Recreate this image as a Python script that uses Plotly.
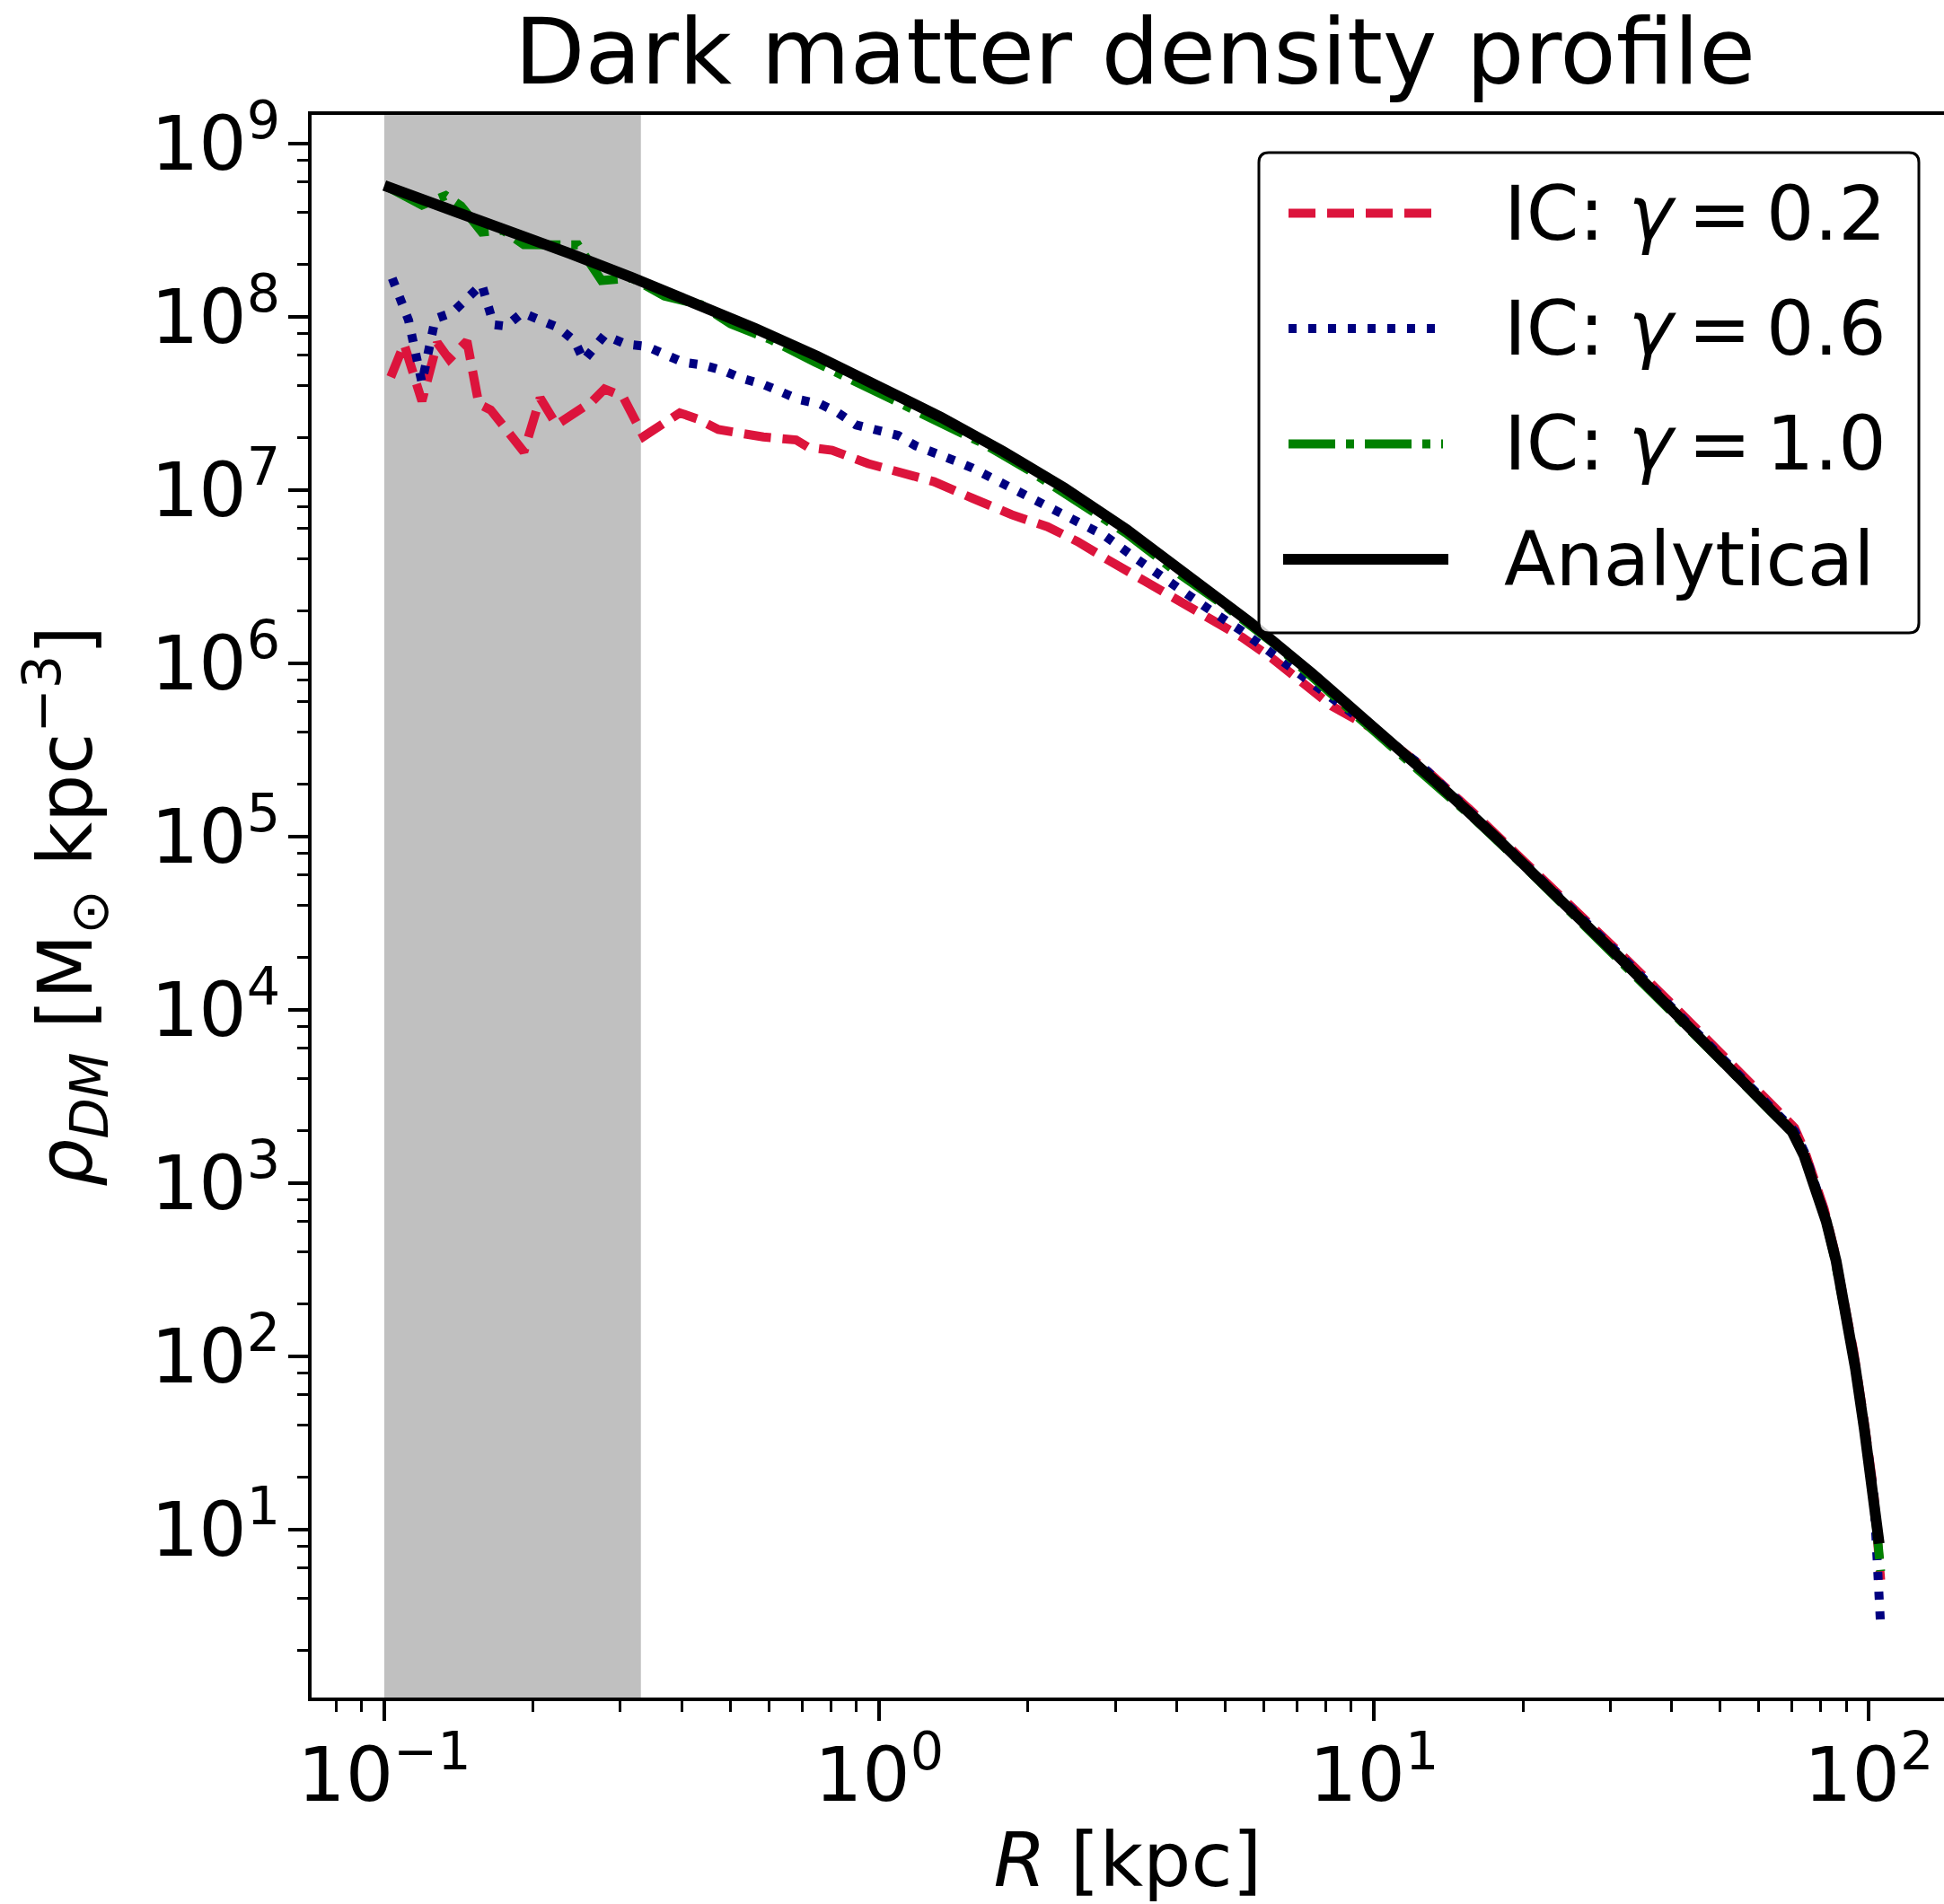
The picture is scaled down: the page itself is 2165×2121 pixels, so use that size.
import numpy as np
import plotly.graph_objects as go

# ---------------- data (log10 units) ----------------
log10_R_analytical = [-1.0, -0.875, -0.75, -0.625, -0.5, -0.375, -0.25, -0.125, 0.0, 0.125,
                      0.25, 0.375, 0.5, 0.625, 0.75, 0.875, 1.0, 1.125, 1.25, 1.375,
                      1.5, 1.625, 1.75, 1.8, 1.845, 1.869, 1.892, 1.914, 1.934, 1.954,
                      1.973, 1.991, 2.009, 2.021]
log10_rho_analytical = [8.758, 8.631, 8.500, 8.366, 8.228, 8.084, 7.933, 7.773, 7.603, 7.421,
                        7.225, 7.011, 6.773, 6.514, 6.236, 5.942, 5.636, 5.317, 4.986, 4.644,
                        4.292, 3.934, 3.573, 3.428, 3.298, 3.16, 2.98, 2.78, 2.55, 2.25,
                        1.93, 1.58, 1.2, 0.92]

log10_R_g02 = [-0.987, -0.96, -0.924, -0.893, -0.869, -0.833, -0.809, -0.785, -0.718, -0.685,
               -0.652, -0.579, -0.555, -0.518, -0.476, -0.403, -0.367, -0.325, -0.234, -0.168,
               -0.143, -0.095, -0.022, 0.038, 0.111, 0.189, 0.268, 0.34, 0.401, 0.461,
               0.534, 0.601, 0.667, 0.734, 0.794, 0.855, 0.915, 1.0, 1.1, 1.2,
               1.3, 1.4, 1.5, 1.6, 1.7, 1.8, 1.85, 1.87, 1.89, 1.91,
               1.93, 1.95, 1.97, 1.99, 2.01, 2.024]
log10_rho_g02 = [7.653, 7.843, 7.514, 7.851, 7.756, 7.86, 7.497, 7.463, 7.221, 7.532,
                 7.377, 7.514, 7.584, 7.541, 7.31, 7.446, 7.411, 7.35, 7.307, 7.29,
                 7.247, 7.23, 7.153, 7.10, 7.049, 6.953, 6.858, 6.789, 6.703, 6.60,
                 6.479, 6.375, 6.263, 6.15, 6.03, 5.891, 5.753, 5.62, 5.40, 5.14,
                 4.87, 4.60, 4.32, 4.04, 3.75, 3.46, 3.32, 3.19, 3.03, 2.85,
                 2.62, 2.35, 2.02, 1.64, 1.22, 0.71]

log10_R_g06 = [-0.984, -0.966, -0.951, -0.924, -0.903, -0.897, -0.863, -0.833, -0.803, -0.779,
               -0.754, -0.721, -0.685, -0.648, -0.615, -0.597, -0.555, -0.512, -0.47, -0.434,
               -0.397, -0.355, -0.313, -0.277, -0.234, -0.198, -0.162, -0.119, -0.083, -0.047,
               -0.004, 0.038, 0.074, 0.111, 0.153, 0.189, 0.225, 0.268, 0.304, 0.34,
               0.383, 0.456, 0.522, 0.589, 0.661, 0.734, 0.825, 0.9, 1.0, 1.1,
               1.2, 1.3, 1.4, 1.5, 1.6, 1.7, 1.8, 1.85, 1.87, 1.89,
               1.91, 1.93, 1.95, 1.97, 1.99, 2.01, 2.024]
log10_rho_g06 = [8.223, 8.102, 7.981, 7.62, 7.869, 7.99, 8.024, 8.11, 8.188, 7.955,
                 7.947, 8.024, 7.981, 7.938, 7.86, 7.748, 7.895, 7.843, 7.83, 7.78,
                 7.739, 7.722, 7.688, 7.645, 7.61, 7.567, 7.523, 7.497, 7.446, 7.377,
                 7.351, 7.316, 7.256, 7.221, 7.17, 7.127, 7.075, 7.015, 6.962, 6.91,
                 6.852, 6.737, 6.60, 6.461, 6.323, 6.185, 5.995, 5.83, 5.62, 5.40,
                 5.13, 4.86, 4.585, 4.31, 4.02, 3.73, 3.44, 3.30, 3.18, 3.02,
                 2.83, 2.6, 2.33, 2.0, 1.62, 1.2, 0.44]

log10_R_g10 = [-0.993, -0.96, -0.924, -0.876, -0.845, -0.803, -0.76, -0.718, -0.66, -0.609,
               -0.561, -0.5, -0.434, -0.36, -0.30, -0.22, -0.13, -0.05, 0.03, 0.12,
               0.21, 0.30, 0.40, 0.5, 0.6, 0.7, 0.8, 0.9, 1.0, 1.1,
               1.2, 1.3, 1.4, 1.5, 1.6, 1.7, 1.8, 1.85, 1.87, 1.89,
               1.91, 1.93, 1.95, 1.97, 1.99, 2.01, 2.024]
log10_rho_g10 = [8.75, 8.70, 8.645, 8.70, 8.64, 8.49, 8.50, 8.417, 8.42, 8.416,
                 8.21, 8.225, 8.12, 8.07, 7.96, 7.87, 7.74, 7.63, 7.53, 7.40,
                 7.27, 7.12, 6.94, 6.75, 6.53, 6.33, 6.11, 5.86, 5.62, 5.37,
                 5.11, 4.84, 4.56, 4.28, 4.0, 3.71, 3.42, 3.28, 3.15, 3.0,
                 2.82, 2.58, 2.3, 1.98, 1.6, 1.18, 0.76]

series_names = ["IC: <i>γ</i>\u2009=\u20090.2", "IC: <i>γ</i>\u2009=\u20090.6",
                "IC: <i>γ</i>\u2009=\u20091.0", "Analytical"]

shade_R = [0.1, 0.33]  # resolution-limited region

x_tick_vals = [0.1, 1, 10, 100]
x_tick_text = ["10<sup>−1</sup>", "10<sup>0</sup>", "10<sup>1</sup>", "10<sup>2</sup>"]
x_minor_vals = [0.07, 0.08, 0.09, 0.2, 0.3, 0.4, 0.5, 0.6, 0.7, 0.8, 0.9,
                2, 3, 4, 5, 6, 7, 8, 9, 20, 30, 40, 50, 60, 70, 80, 90]
y_tick_vals = [1e1, 1e2, 1e3, 1e4, 1e5, 1e6, 1e7, 1e8, 1e9]
y_tick_text = ["10<sup>1</sup>", "10<sup>2</sup>", "10<sup>3</sup>", "10<sup>4</sup>",
               "10<sup>5</sup>", "10<sup>6</sup>", "10<sup>7</sup>", "10<sup>8</sup>",
               "10<sup>9</sup>"]
y_minor_vals = [m * 10.0 ** e for e in range(0, 9) for m in (2, 4, 6, 8)]

# ---------------- layout geometry ----------------
W, H = 2165, 2121
ML, MR, MT, MB = 347, 0, 128, 230
PW, PH = W - ML - MR, H - MT - MB
FONT = "DejaVu Sans"
FS = 84


def px2paper_x(px):
    return (px - ML) / PW


def px2paper_y(py):
    return (H - MB - py) / PH


styles = [
    dict(color="crimson", width=10, dash="30px,13px"),
    dict(color="navy", width=10, dash="9px,13px"),
    dict(color="green", width=10, dash="52px,12px,9px,12px"),
    dict(color="black", width=12, dash="solid"),
]
xs = [log10_R_g02, log10_R_g06, log10_R_g10, log10_R_analytical]
ys = [log10_rho_g02, log10_rho_g06, log10_rho_g10, log10_rho_analytical]

fig = go.Figure()
for name, lx, ly, st in zip(series_names, xs, ys, styles):
    fig.add_trace(go.Scatter(
        x=10 ** np.array(lx), y=10 ** np.array(ly), mode="lines", name=name,
        line=st, showlegend=False,
    ))

fig.add_vrect(x0=shade_R[0], x1=shade_R[1], fillcolor="#c0c0c0", opacity=1,
              line_width=0, layer="below")

axis_common = dict(
    type="log", showgrid=False, zeroline=False, showline=True, linewidth=4,
    linecolor="black", ticks="outside", ticklen=22, tickwidth=4, tickcolor="black",
    tickfont=dict(family=FONT, size=FS, color="black"), tickmode="array",
)

fig.update_xaxes(
    **axis_common, mirror=True, ticklabelstandoff=-12,
    range=[-1.147, 2.152], tickvals=x_tick_vals, ticktext=x_tick_text,
    minor=dict(tickmode="array", tickvals=x_minor_vals, ticks="outside",
               ticklen=12, tickwidth=3, tickcolor="black", showgrid=False),
    title=dict(text="<i>R</i> [kpc]", font=dict(family=FONT, size=FS, color="black"),
               standoff=36),
)
fig.update_yaxes(
    **axis_common, mirror=False, ticklabelstandoff=-8,
    range=[0.031, 9.166], tickvals=y_tick_vals, ticktext=y_tick_text,
    minor=dict(tickmode="array", tickvals=y_minor_vals, ticks="outside",
               ticklen=12, tickwidth=3, tickcolor="black", showgrid=False),
    title=dict(text="<i>ρ</i><sub><i>DM</i></sub> [M<sub>⊙</sub> kpc<sup>−3</sup>]",
               font=dict(family=FONT, size=FS, color="black"), standoff=38),
)

# ---------------- legend (drawn as a framed box) ----------------
bx0, bx1, by0, by1, rr = 1402, 2137, 170, 705, 11


def rounded_path(x0, y0, x1, y1, r):
    X = lambda v: px2paper_x(v)
    Y = lambda v: px2paper_y(v)
    return (f"M {X(x0 + r)},{Y(y0)} L {X(x1 - r)},{Y(y0)} Q {X(x1)},{Y(y0)} {X(x1)},{Y(y0 + r)} "
            f"L {X(x1)},{Y(y1 - r)} Q {X(x1)},{Y(y1)} {X(x1 - r)},{Y(y1)} "
            f"L {X(x0 + r)},{Y(y1)} Q {X(x0)},{Y(y1)} {X(x0)},{Y(y1 - r)} "
            f"L {X(x0)},{Y(y0 + r)} Q {X(x0)},{Y(y0)} {X(x0 + r)},{Y(y0)} Z")


fig.add_shape(type="path", path=rounded_path(bx0, by0, bx1, by1, rr), xref="paper", yref="paper",
              fillcolor="rgba(255,255,255,0.8)", line=dict(color="black", width=3), layer="above")

entry_y = [237.5, 366, 494.5, 623]
for name, st, ey in zip(series_names, styles, entry_y):
    ext = 6 if st["dash"] == "solid" else 0
    fig.add_shape(type="line", xref="paper", yref="paper",
                  x0=px2paper_x(1435 - ext), x1=px2paper_x(1607 + ext),
                  y0=px2paper_y(ey), y1=px2paper_y(ey),
                  line=dict(color=st["color"], width=st["width"], dash=st["dash"]), layer="above")
    fig.add_annotation(text=name, xref="paper", yref="paper", x=px2paper_x(1673),
                       y=px2paper_y(ey), xanchor="left", yanchor="middle", showarrow=False,
                       font=dict(family=FONT, size=FS, color="black"))

fig.update_layout(
    width=W, height=H,
    margin=dict(l=ML, r=MR, t=MT, b=MB, pad=0),
    paper_bgcolor="white", plot_bgcolor="white",
    font=dict(family=FONT, size=FS, color="black"),
    showlegend=False,
    title=dict(text="Dark matter density profile", font=dict(family=FONT, size=102, color="black"),
               x=1264 / W, xref="container", xanchor="center",
               y=1 - 22 / H, yref="container", yanchor="top"),
)

fig.write_html("out.html")
